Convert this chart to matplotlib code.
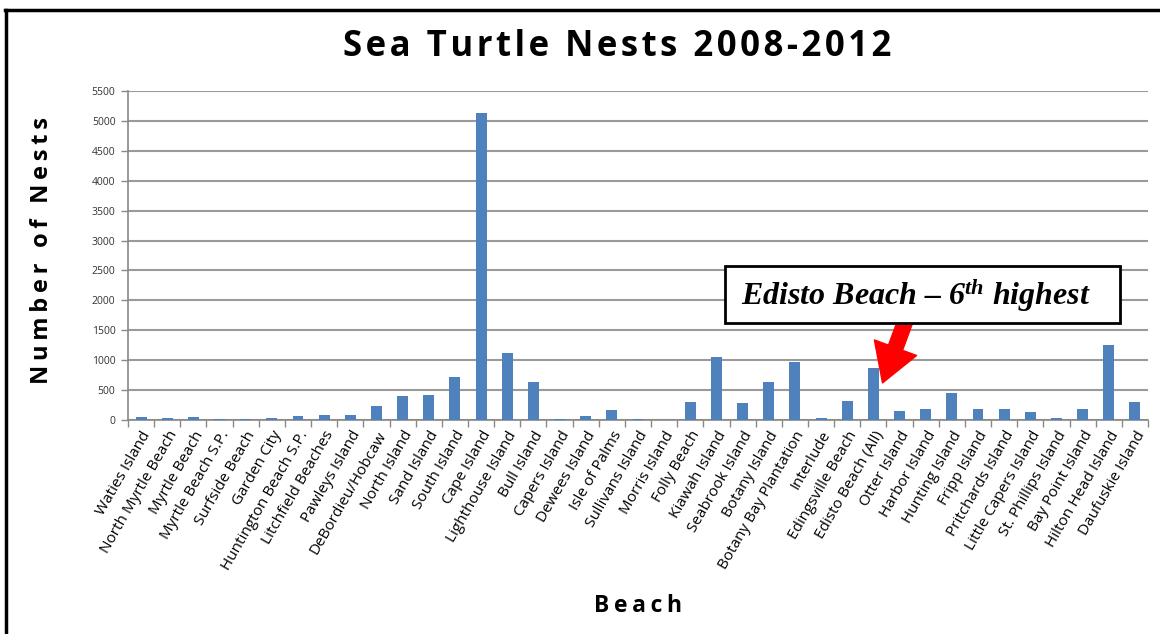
import matplotlib
matplotlib.use("Agg")
import matplotlib.pyplot as plt
from matplotlib.lines import Line2D
from matplotlib.patches import Rectangle
import numpy as np

beaches = ["Waties Island", "North Myrtle Beach", "Myrtle Beach", "Myrtle Beach S.P.",
           "Surfside Beach", "Garden City", "Huntington Beach S.P.", "Litchfield Beaches",
           "Pawleys Island", "DeBordieu/Hobcaw", "North Island", "Sand Island",
           "South Island", "Cape Island", "Lighthouse Island", "Bull Island",
           "Capers Island", "Dewees Island", "Isle of Palms", "Sullivans Island",
           "Morris Island", "Folly Beach", "Kiawah Island", "Seabrook Island",
           "Botany Island", "Botany Bay Plantation", "Interlude", "Edingsville Beach",
           "Edisto Beach (All)", "Otter Island", "Harbor Island", "Hunting Island",
           "Fripp Island", "Pritchards Island", "Little Capers Island", "St. Phillips Island",
           "Bay Point Island", "Hilton Head Island", "Daufuskie Island"]
nests = [55, 40, 55, 10, 10, 33, 67, 90, 90, 240, 407, 424, 725, 5125, 1115, 641,
         20, 67, 167, 20, 0, 307, 1059, 279, 630, 964, 33, 323, 864, 150, 179, 446,
         190, 179, 128, 33, 179, 1254, 295]
yticks = list(range(0, 5501, 500))

W, H = 1160, 634
fig = plt.figure(figsize=(W / 100, H / 100), dpi=100)
ax = fig.add_axes([128 / W, 1 - 420 / H, (1148 - 128) / W, (420 - 91) / H])

x = np.arange(len(beaches))
ax.bar(x, nests, width=0.42, color="#4F81BD", zorder=3)
ax.set_xlim(-0.5, len(beaches) - 0.5)
ax.set_ylim(0, 5500)
ax.set_yticks(yticks)
ax.set_yticklabels([str(v) for v in yticks], fontsize=7.5, color="#333333",
                   family="Open Sans")
ax.yaxis.grid(True, color="#9a9a9a", linewidth=1.5, zorder=0)
ax.set_axisbelow(True)

ax.set_xticks(x)
ax.set_xticklabels(beaches, rotation=60, ha="right", va="top",
                   rotation_mode="anchor", fontsize=11, family="Open Sans")
ax.set_xticks(np.arange(len(beaches) + 1) - 0.5, minor=True)
ax.tick_params(axis="x", which="major", length=0, pad=6)
ax.tick_params(axis="x", which="minor", length=5, color="#888888", width=1)
ax.tick_params(axis="y", length=5, color="#888888", width=1, pad=4)

for s in ["top", "right"]:
    ax.spines[s].set_visible(False)
ax.spines["left"].set_color("#888888")
ax.spines["bottom"].set_color("#888888")
ax.spines["left"].set_linewidth(1.2)
ax.spines["bottom"].set_linewidth(1.2)

def spaced(s, sep="\u200a"):
    return sep.join(s)

fig.text(617 / W, 1 - 47 / H, spaced("Sea Turtle Nests 2008-2012"), ha="center",
         va="center", fontsize=25, fontweight="bold", family="Open Sans")
fig.text(42 / W, 1 - 250 / H, spaced("Number of Nests", "\u2009"), rotation=90,
         ha="center", va="center", fontsize=17, fontweight="bold", family="Open Sans")
fig.text(638 / W, 1 - 606 / H, spaced("Beach", "\u2009"), ha="center", va="center",
         fontsize=16.5, fontweight="bold", family="Open Sans")

# frame
fig.add_artist(Line2D([5 / W, 1], [1 - 9.5 / H, 1 - 9.5 / H], color="black", linewidth=2.5,
                      transform=fig.transFigure))
fig.add_artist(Line2D([6 / W, 6 / W], [0, 1 - 9.5 / H], color="black", linewidth=2.5,
                      transform=fig.transFigure))

# annotation box
plt.rcParams["mathtext.fontset"] = "custom"
plt.rcParams["mathtext.rm"] = "Liberation Serif:bold:italic"
plt.rcParams["mathtext.it"] = "Liberation Serif:bold:italic"
fig.add_artist(Rectangle((725 / W, 1 - 323 / H), (1120 - 725) / W, (323 - 266) / H,
                         transform=fig.transFigure, facecolor="white", edgecolor="black",
                         linewidth=2, zorder=5))
fig.text(916 / W, 1 - 296 / H, r"Edisto Beach – 6$^{\mathrm{th}}$ highest", ha="center",
         va="center", fontsize=23, fontweight="bold", style="italic",
         family="Liberation Serif", zorder=6)

ax.annotate("", xy=(28.35, 620), xycoords="data",
            xytext=(905 / W, 1 - 322 / H), textcoords="figure fraction",
            arrowprops=dict(arrowstyle="simple,head_width=1.8,head_length=1.5,tail_width=0.6",
                            color="#ff0000", shrinkA=0, shrinkB=0, mutation_scale=18),
            zorder=7, annotation_clip=False)

fig.savefig("out.png", dpi=100)
